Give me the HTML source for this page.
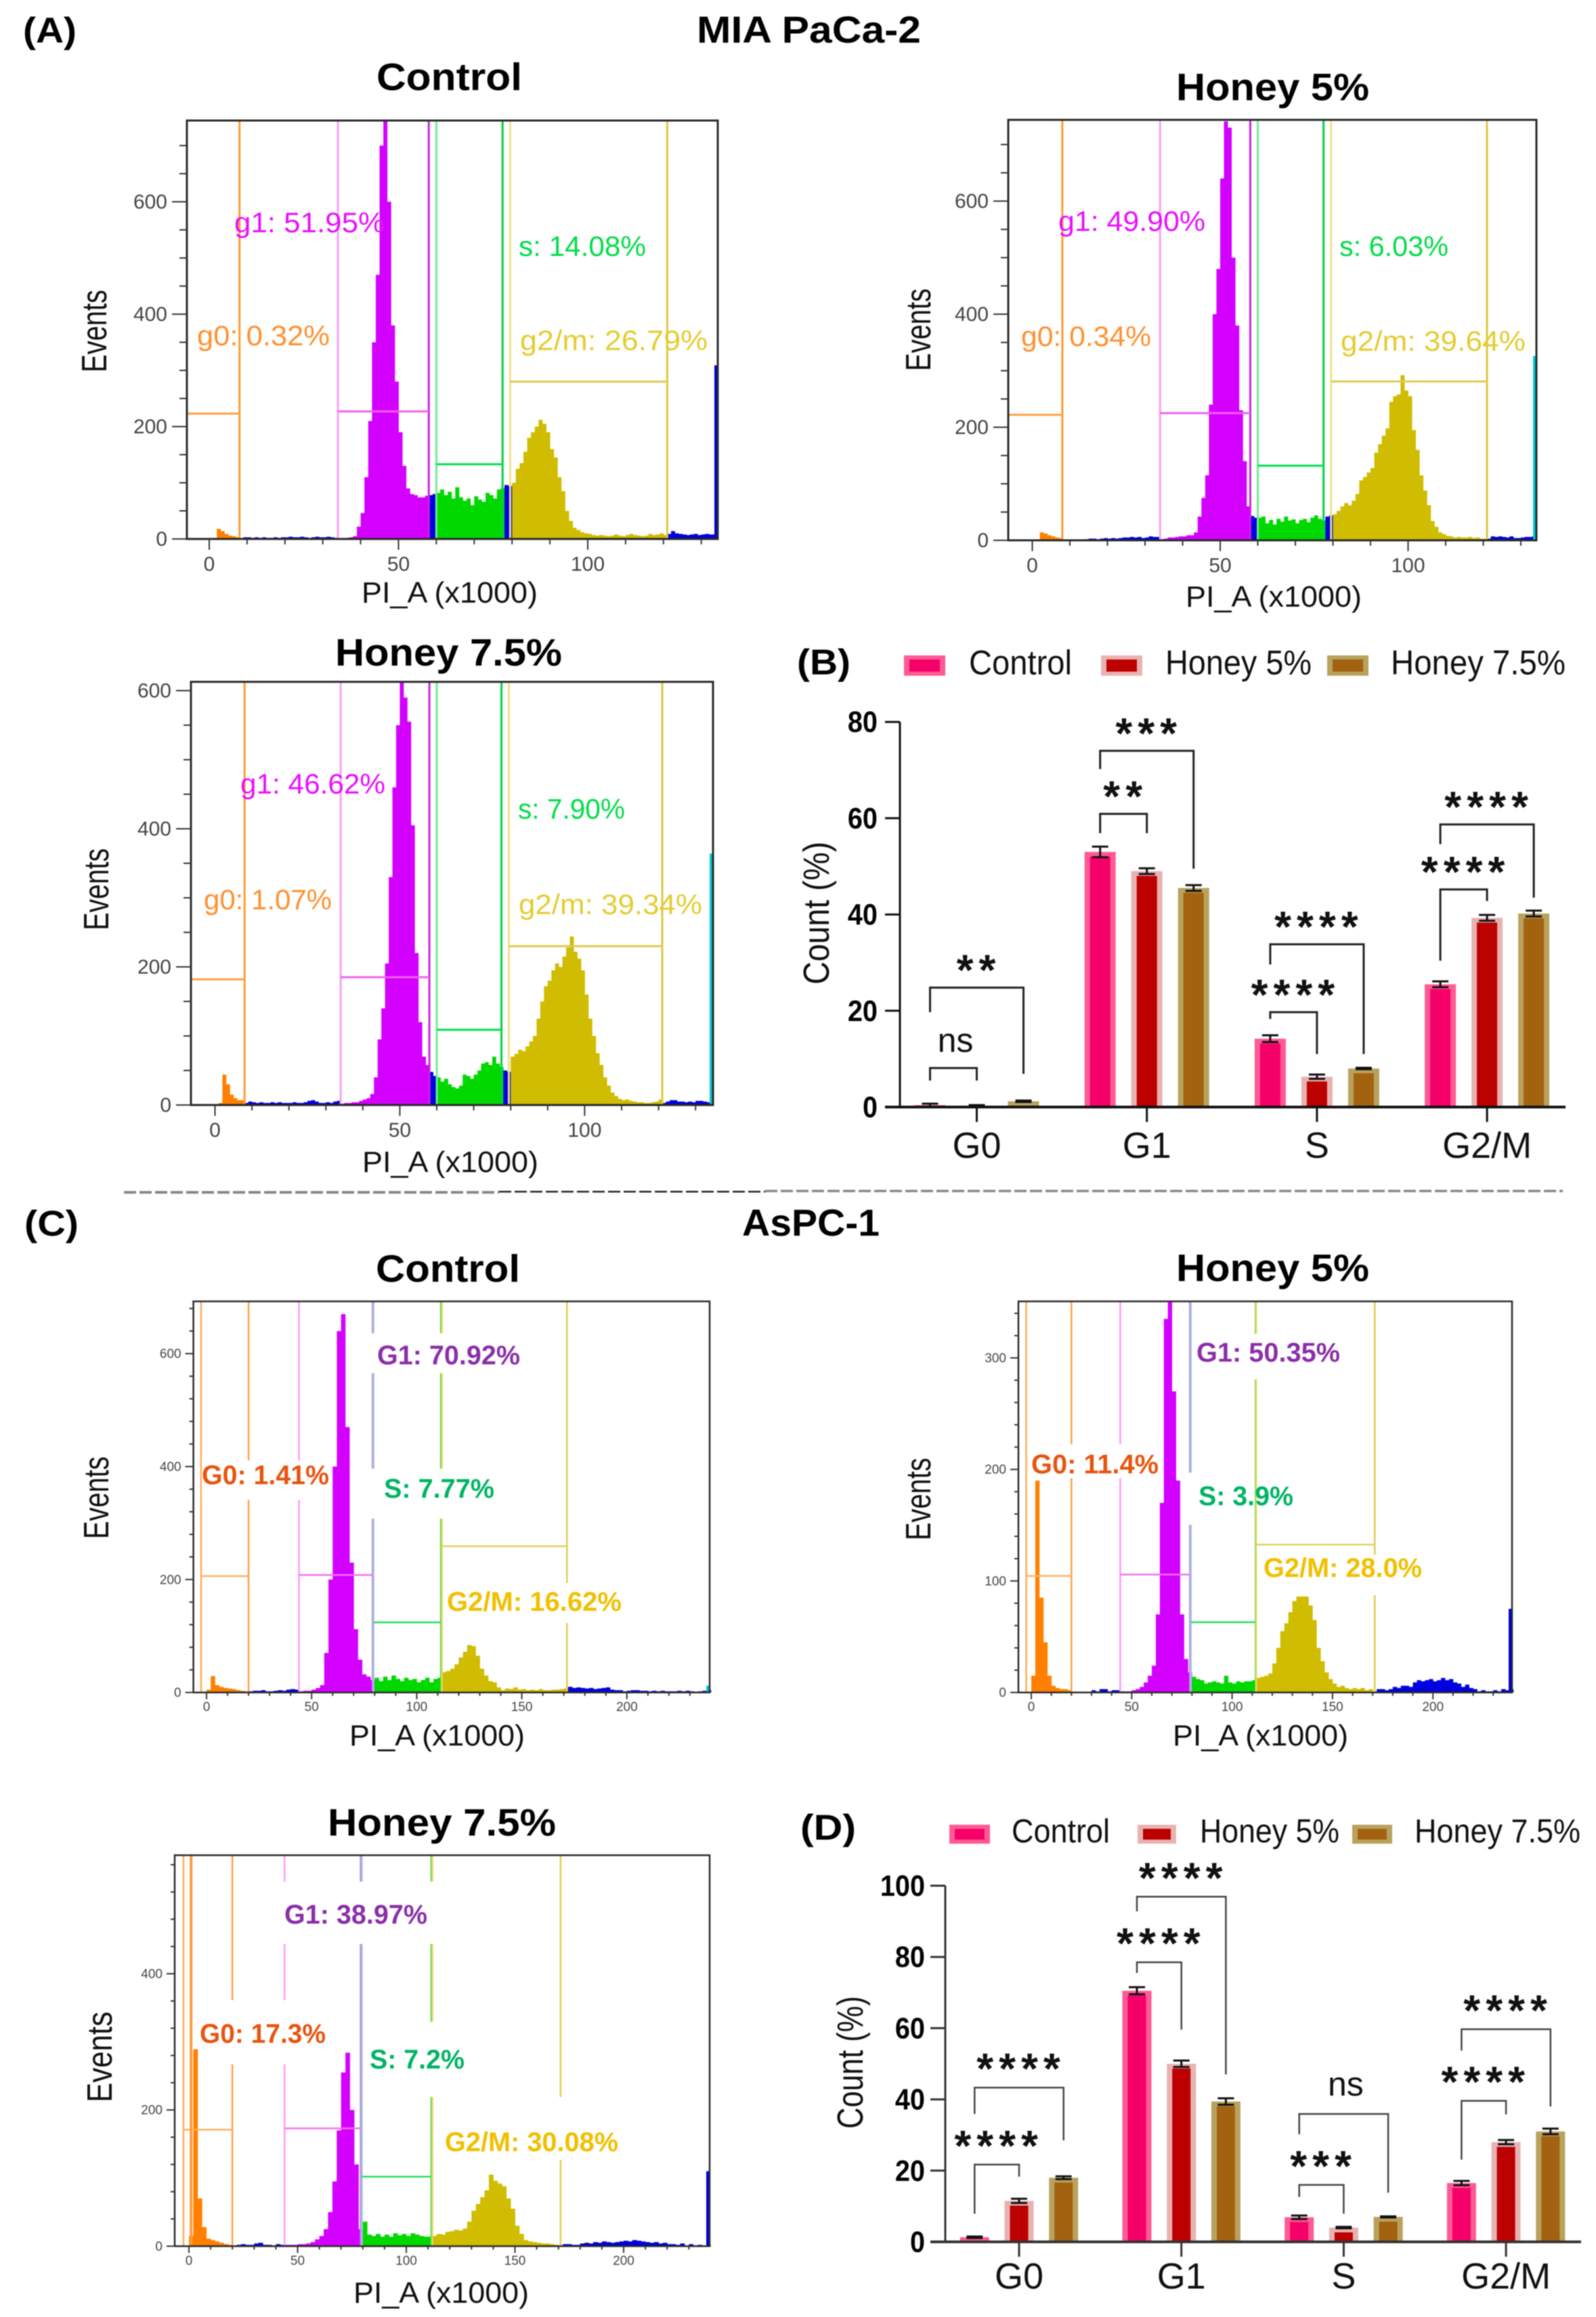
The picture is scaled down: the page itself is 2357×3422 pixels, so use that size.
<!DOCTYPE html>
<html lang="en">
<head>
<meta charset="utf-8">
<title>Honey cell cycle flow cytometry</title>
<style>
html,body{margin:0;padding:0;background:#fff;}
svg{display:block;font-family:"Liberation Sans",sans-serif;filter:blur(0.9px);}
.t{font-weight:bold;fill:#000;}
.ax{fill:#111;}
.a{font-size:42px;}
.c{font-size:40px;font-weight:bold;}
.mg{fill:#e80fff;}.gr{fill:#00dd48;}.og{fill:#ff9030;}.yl{fill:#e4cc30;}
.cg0{fill:#e8540f;}.cg1{fill:#8b2fa8;}.cs{fill:#00b464;}.cg2{fill:#f0c000;}
</style>
</head>
<body>
<svg xmlns="http://www.w3.org/2000/svg" width="2357" height="3422" viewBox="0 0 2357 3422">
<rect width="2357" height="3422" fill="#fff"/>

<text class="t" x="34" y="63" font-size="53" textLength="79" lengthAdjust="spacingAndGlyphs">(A)</text>
<text class="t" x="1029" y="63" font-size="56" textLength="331" lengthAdjust="spacingAndGlyphs">MIA PaCa-2</text>
<text class="t" x="556" y="133" font-size="57" textLength="215" lengthAdjust="spacingAndGlyphs">Control</text>
<text class="t" x="1737" y="148" font-size="57" textLength="285" lengthAdjust="spacingAndGlyphs">Honey 5%</text>
<text class="t" x="495" y="983" font-size="57" textLength="335" lengthAdjust="spacingAndGlyphs">Honey 7.5%</text>

<!-- A control -->
<g id="plot-a-control"></g>
<text class="a mg" x="346" y="343" textLength="222" lengthAdjust="spacingAndGlyphs">g1: 51.95%</text>
<text class="a gr" x="766" y="378" textLength="188" lengthAdjust="spacingAndGlyphs">s: 14.08%</text>
<text class="a og" x="291" y="510" textLength="196" lengthAdjust="spacingAndGlyphs">g0: 0.32%</text>
<text class="a yl" x="768" y="517" textLength="277" lengthAdjust="spacingAndGlyphs">g2/m: 26.79%</text>
<text class="ax" transform="translate(157,550) rotate(-90)" font-size="52" textLength="122" lengthAdjust="spacingAndGlyphs">Events</text>
<text class="ax" x="534" y="890" font-size="44" textLength="260" lengthAdjust="spacingAndGlyphs">PI_A (x1000)</text>

<!-- A honey 5 -->
<g id="plot-a-honey5"></g>
<text class="a mg" x="1563" y="341" textLength="217" lengthAdjust="spacingAndGlyphs">g1: 49.90%</text>
<text class="a gr" x="1978" y="378" textLength="161" lengthAdjust="spacingAndGlyphs">s: 6.03%</text>
<text class="a og" x="1508" y="511" textLength="192" lengthAdjust="spacingAndGlyphs">g0: 0.34%</text>
<text class="a yl" x="1980" y="518" textLength="273" lengthAdjust="spacingAndGlyphs">g2/m: 39.64%</text>
<text class="ax" transform="translate(1374,548) rotate(-90)" font-size="52" textLength="122" lengthAdjust="spacingAndGlyphs">Events</text>
<text class="ax" x="1751" y="896" font-size="44" textLength="260" lengthAdjust="spacingAndGlyphs">PI_A (x1000)</text>

<!-- A honey 7.5 -->
<g id="plot-a-honey75"></g>
<text class="a mg" x="355" y="1172" textLength="214" lengthAdjust="spacingAndGlyphs">g1: 46.62%</text>
<text class="a gr" x="765" y="1209" textLength="158" lengthAdjust="spacingAndGlyphs">s: 7.90%</text>
<text class="a og" x="301" y="1343" textLength="189" lengthAdjust="spacingAndGlyphs">g0: 1.07%</text>
<text class="a yl" x="766" y="1350" textLength="271" lengthAdjust="spacingAndGlyphs">g2/m: 39.34%</text>
<text class="ax" transform="translate(160,1374) rotate(-90)" font-size="52" textLength="121" lengthAdjust="spacingAndGlyphs">Events</text>
<text class="ax" x="535" y="1731" font-size="44" textLength="260" lengthAdjust="spacingAndGlyphs">PI_A (x1000)</text>

<!-- B -->
<text class="t" x="1177" y="996" font-size="53" textLength="79" lengthAdjust="spacingAndGlyphs">(B)</text>
<g>
<rect x="1335" y="968" width="61" height="30" fill="#ff5a94"/><rect x="1343" y="974" width="45" height="18" fill="#f5006a"/>
<text class="ax" x="1431" y="996" font-size="51" textLength="152" lengthAdjust="spacingAndGlyphs">Control</text>
<rect x="1626" y="968" width="61" height="30" fill="#e8b2b2"/><rect x="1634" y="974" width="45" height="18" fill="#bc0000"/>
<text class="ax" x="1721" y="996" font-size="51" textLength="216" lengthAdjust="spacingAndGlyphs">Honey 5%</text>
<rect x="1960" y="968" width="61" height="30" fill="#b8a25e"/><rect x="1968" y="974" width="45" height="18" fill="#a36210"/>
<text class="ax" x="2054" y="996" font-size="51" textLength="258" lengthAdjust="spacingAndGlyphs">Honey 7.5%</text>
</g>
<g id="chart-b"></g>
<text class="ax" transform="translate(1224,1454) rotate(-90)" font-size="54" fill="#222" textLength="211" lengthAdjust="spacingAndGlyphs">Count (%)</text>

<!-- Divider -->
<g fill="none" stroke-dasharray="18 5">
<line x1="183" y1="1761" x2="737" y2="1761" stroke="#888" stroke-width="4"/>
<line x1="737" y1="1760" x2="1130" y2="1760" stroke="#222" stroke-width="2.5"/>
<line x1="1130" y1="1759" x2="2308" y2="1759" stroke="#888" stroke-width="3.5"/>
</g>

<text class="t" x="36" y="1825" font-size="53" textLength="80" lengthAdjust="spacingAndGlyphs">(C)</text>
<text class="t" x="1096" y="1825" font-size="56" textLength="203" lengthAdjust="spacingAndGlyphs">AsPC-1</text>
<text class="t" x="555" y="1893" font-size="57" textLength="213" lengthAdjust="spacingAndGlyphs">Control</text>
<text class="t" x="1737" y="1892" font-size="57" textLength="285" lengthAdjust="spacingAndGlyphs">Honey 5%</text>
<text class="t" x="484" y="2711" font-size="57" textLength="337" lengthAdjust="spacingAndGlyphs">Honey 7.5%</text>

<!-- C control -->
<g id="plot-c-control"></g>
<g fill="#fff">
<rect x="548" y="1969" width="222" height="59"/>
<rect x="298" y="2157" width="192" height="58"/>
<rect x="549" y="2169" width="186" height="74"/>
<rect x="660" y="2338" width="260" height="59"/>
</g>
<text class="c cg1" x="557" y="2015" textLength="211" lengthAdjust="spacingAndGlyphs">G1: 70.92%</text>
<text class="c cg0" x="298" y="2192" textLength="188" lengthAdjust="spacingAndGlyphs">G0: 1.41%</text>
<text class="c cs" x="567" y="2212" textLength="163" lengthAdjust="spacingAndGlyphs">S: 7.77%</text>
<text class="c cg2" x="660" y="2379" textLength="258" lengthAdjust="spacingAndGlyphs">G2/M: 16.62%</text>
<text class="ax" transform="translate(160,2273) rotate(-90)" font-size="52" textLength="122" lengthAdjust="spacingAndGlyphs">Events</text>
<text class="ax" x="516" y="2578" font-size="44" textLength="259" lengthAdjust="spacingAndGlyphs">PI_A (x1000)</text>

<!-- C honey 5 -->
<g id="plot-c-honey5"></g>
<g fill="#fff">
<rect x="1760" y="1970" width="225" height="67"/>
<rect x="1522" y="2133" width="191" height="50"/>
<rect x="1755" y="2175" width="10" height="77"/>
<rect x="1864" y="2296" width="238" height="60"/>
</g>
<text class="c cg1" x="1767" y="2011" textLength="212" lengthAdjust="spacingAndGlyphs">G1: 50.35%</text>
<text class="c cg0" x="1523" y="2176" textLength="188" lengthAdjust="spacingAndGlyphs">G0: 11.4%</text>
<text class="c cs" x="1770" y="2223" textLength="140" lengthAdjust="spacingAndGlyphs">S: 3.9%</text>
<text class="c cg2" x="1866" y="2329" textLength="234" lengthAdjust="spacingAndGlyphs">G2/M: 28.0%</text>
<text class="ax" transform="translate(1374,2275) rotate(-90)" font-size="52" textLength="122" lengthAdjust="spacingAndGlyphs">Events</text>
<text class="ax" x="1732" y="2578" font-size="44" textLength="259" lengthAdjust="spacingAndGlyphs">PI_A (x1000)</text>

<!-- C honey 7.5 -->
<g id="plot-c-honey75"></g>
<g fill="#fff">
<rect x="412" y="2779" width="230" height="92"/>
<rect x="293" y="2954" width="190" height="95"/>
<rect x="540" y="2986" width="150" height="111"/>
<rect x="648" y="3097" width="275" height="93"/>
</g>
<text class="c cg1" x="420" y="2841" textLength="211" lengthAdjust="spacingAndGlyphs">G1: 38.97%</text>
<text class="c cg0" x="295" y="3017" textLength="186" lengthAdjust="spacingAndGlyphs">G0: 17.3%</text>
<text class="c cs" x="546" y="3055" textLength="140" lengthAdjust="spacingAndGlyphs">S: 7.2%</text>
<text class="c cg2" x="657" y="3177" textLength="256" lengthAdjust="spacingAndGlyphs">G2/M: 30.08%</text>
<text class="ax" transform="translate(165,3105) rotate(-90)" font-size="52" textLength="134" lengthAdjust="spacingAndGlyphs">Events</text>
<text class="ax" x="522" y="3401" font-size="44" textLength="259" lengthAdjust="spacingAndGlyphs">PI_A (x1000)</text>

<!-- D -->
<text class="t" x="1182" y="2717" font-size="53" textLength="82" lengthAdjust="spacingAndGlyphs">(D)</text>
<g>
<rect x="1402" y="2695" width="60" height="28" fill="#ff5a94"/><rect x="1410" y="2701" width="44" height="16" fill="#f5006a"/>
<text class="ax" x="1494" y="2721" font-size="49" textLength="145" lengthAdjust="spacingAndGlyphs">Control</text>
<rect x="1680" y="2695" width="57" height="28" fill="#e8b2b2"/><rect x="1688" y="2701" width="41" height="16" fill="#bc0000"/>
<text class="ax" x="1772" y="2721" font-size="49" textLength="206" lengthAdjust="spacingAndGlyphs">Honey 5%</text>
<rect x="1997" y="2695" width="59" height="28" fill="#b8a25e"/><rect x="2005" y="2701" width="43" height="16" fill="#a36210"/>
<text class="ax" x="2089" y="2721" font-size="49" textLength="245" lengthAdjust="spacingAndGlyphs">Honey 7.5%</text>
</g>
<g id="chart-d"></g>
<text class="ax" transform="translate(1274,3144) rotate(-90)" font-size="54" fill="#222" textLength="196" lengthAdjust="spacingAndGlyphs">Count (%)</text>
</svg>

<script>
// ---------- Histogram data (events per PI_A bin; panel A bins start at 0 with width 1, panel C bins start at 0 with width 2) ----------
const aControlCounts=[0,2,18,14,9,6,5,3,
1,3,3,2,3,2,3,2,2,3,2,3,3,4,3,3,4,3,2,3,4,3,3,4,3,2,
1,1,2,3,5,22,46,110,210,350,470,700,744,600,380,280,190,130,90,80,78,74,74,77,
78,80,
82,88,78,84,72,92,74,68,72,60,76,70,66,82,78,72,88,90,
96,94,
100,125,135,155,180,190,200,212,205,190,160,145,110,85,50,32,20,16,12,10,9,7,6,7,6,5,6,8,6,5,7,9,7,6,5,6,9,7,8,10,7,
9,14,10,9,8,7,8,9,7,8,9,8,8];
const aControlEdge=[309];
const aControlGates=[null,8,34,58,60,77.5,79.5,121];
const aControlLevels=[223,227,133,280];

const aHoney5Counts=[0,1,14,12,9,7,5,4,
1,1,1,1,1,1,2,3,3,2,3,4,3,4,3,4,5,5,6,5,6,4,5,7,6,6,
2,3,5,5,6,7,7,9,9,14,42,75,115,240,400,480,640,741,730,500,380,230,140,60,
43,40,
40,42,30,36,28,38,33,42,35,37,30,36,38,32,40,44,38,35,
42,44,
46,52,60,66,62,70,82,106,112,120,128,155,170,185,198,245,255,258,292,265,255,195,160,115,88,62,34,24,14,11,8,7,5,6,5,5,6,4,5,3,3,
3,7,6,7,6,5,7,4,4,5,6,6,7];
const aHoney5Edge=[326];
const aHoney5Gates=[null,8,34,58,60,77.5,79.5,121];
const aHoney5Levels=[222,225,132,281];

const aHoney75Counts=[0,3,44,30,15,10,7,7,
3,5,4,3,4,3,3,4,3,4,3,3,3,4,3,3,4,6,7,5,3,3,4,3,5,6,
2,3,3,4,4,6,8,10,16,40,95,140,205,330,460,550,612,590,555,405,220,120,70,58,
48,42,
40,34,38,30,26,24,28,44,42,38,44,50,60,62,58,70,60,55,
50,48,
70,74,80,78,85,92,100,125,150,172,180,195,205,200,215,228,244,222,212,195,160,125,100,75,58,40,28,18,13,9,7,8,6,5,4,4,3,3,4,5,8,
3,5,7,7,5,5,4,5,4,6,6,5,4];
const aHoney75Edge=[364];
const aHoney75Gates=[null,8,34,58,60,77.5,79.5,121];
const aHoney75Levels=[182,185,109,230];

const cControlCounts=[5,29,13,10,8,7,6,4,3,2,
2,3,3,4,2,2,3,4,3,5,6,5,
2,3,3,5,8,13,70,200,400,640,670,470,230,112,58,32,28,22,
26,20,28,22,30,24,20,26,22,24,18,22,26,18,24,26,
36,38,42,50,62,72,84,82,65,42,30,20,18,9,4,7,6,9,5,6,4,5,4,6,4,4,5,5,6,7,
10,8,9,8,7,8,6,7,8,9,5,4,4,2,3,4,4,3,3,2,3,2,3,2,2,2,3,2,3,2,1,2,3,4];
const cControlEdge=[12];
const cControlGates=[-2.6,20,44,79,79.5,111.5,112,171.5];
const cControlLevels=[206,208,124,259];

const cHoney5Counts=[15,190,85,45,15,6,4,3,3,2,
0,0,0,0,0,2,1,3,3,1,2,2,
1,1,1,2,3,5,9,15,24,70,170,335,351,270,190,70,30,18,
14,12,11,8,9,10,9,8,15,9,8,10,9,10,10,11,
13,14,15,17,26,40,55,62,72,82,86,86,86,78,65,40,28,18,12,8,5,6,4,3,4,3,4,2,3,1,
3,3,2,3,5,4,6,6,5,9,11,10,11,12,10,11,13,11,12,9,8,5,7,4,3,1,2,1,1,2,1,3,2,3];
const cHoney5Edge=[75];
const cHoney5Gates=[-2.5,20,44.3,79,79.5,111.7,112,171];
const cHoney5Levels=[104.5,105.7,63,132.6];

const cHoney75Counts=[15,289,70,28,11,9,7,5,3,2,
1,2,3,2,2,4,5,2,2,1,3,2,
2,2,2,3,3,4,6,10,15,25,50,95,170,255,284,200,120,25,
36,17,15,18,14,17,14,19,16,18,15,19,17,15,14,14,
15,18,17,21,22,24,23,26,36,52,62,72,82,105,96,92,88,70,55,30,18,9,7,6,5,4,4,3,2,1,
3,3,2,2,4,5,4,6,5,7,6,5,6,7,8,7,9,8,7,6,5,6,4,5,3,3,2,4,1,3,1,2,1,2];
const cHoney75Edge=[110];
const cHoney75Gates=[-2.5,20,44,79,79.6,111.5,112,171];
const cHoney75Levels=[171,173,102,null];

const aXTickLabels=[0,50,100];
const aYTickLabels=[0,200,400,600];
const cXTickLabels=[0,50,100,150,200];
const cControlYTickLabels=[0,200,400,600];
const cHoney5YTickLabels=[0,100,200,300];
const cHoney75YTickLabels=[0,200,400];

// ---------- Bar chart data ----------
const phaseCategories=['G0','G1','S','G2/M'];
const bControl=[0.4,53,14.2,25.5];
const bHoney5=[0.3,49,6.3,39.3];
const bHoney75=[1.2,45.5,8,40.2];
const bControlErr=[0.3,1.1,0.7,0.6];
const bHoney5Err=[0.1,0.6,0.45,0.6];
const bHoney75Err=[0.15,0.6,0.15,0.6];
const bYTicks=[0,20,40,60,80];
// category, first bar, last bar, bracket top, left leg end, right leg end, label
const bBrackets=[
[0,0,1,8.1,5.5,5.5,'ns'],
[0,0,2,24.8,19.7,6.9,'**'],
[1,0,1,60.9,56.9,56.9,'**'],
[1,0,2,74,70.2,49.5,'***'],
[2,0,1,19.7,18.3,11,'****'],
[2,0,2,33.8,29.6,11,'****'],
[3,0,1,45.2,30.4,42.8,'****'],
[3,0,2,58.7,54.6,43.5,'****']];

const dControl=[1.3,70.5,6.9,16.5];
const dHoney5=[11.5,50,4,28];
const dHoney75=[18,39.4,7,31];
const dControlErr=[0.2,1,0.5,0.6];
const dHoney5Err=[0.6,0.9,0.2,0.6];
const dHoney75Err=[0.4,0.9,0.15,0.8];
const dYTicks=[0,20,40,60,80,100];
const dBrackets=[
[0,0,1,21.7,7.9,18.3,'****'],
[0,0,2,43.3,35.9,28.5,'****'],
[1,0,1,78.5,75.5,59.6,'****'],
[1,0,2,96.9,92.8,47,'****'],
[2,0,1,16,12.6,7.9,'***'],
[2,0,2,35.9,30.2,13.8,'ns'],
[3,0,1,39.6,23.1,35.8,'****'],
[3,0,2,59.7,53.7,38,'****']];

// ---------- Drawing helpers ----------
const NS='http://www.w3.org/2000/svg';
function mk(tag,parent,attrs){
  const e=document.createElementNS(NS,tag);
  for(const k in attrs)e.setAttribute(k,attrs[k]);
  parent.appendChild(e);
  return e;
}
function xScale(p,v){return p.zeroX+v*p.kx;}
function yScale(p,v){return p.bottom-v*p.ky;}

const HIST={orange:'#ff8000',blue:'#0000e0',magenta:'#d400ff',green:'#00d800',yellow:'#d0bc00'};
function binColor(x,g){
  if(x<g[1])return HIST.orange;
  if(x>=g[2]&&x<g[3])return HIST.magenta;
  if(x>=g[4]&&x<g[5])return HIST.green;
  if(x>=g[6]&&x<g[7])return HIST.yellow;
  return HIST.blue;
}

function drawHistogram(p){
  const root=document.getElementById(p.id);
  // bins
  p.counts.forEach(function(c,i){
    const x0=p.step*i;
    const px=xScale(p,x0);
    const top=Math.max(yScale(p,c),p.top);
    const r=mk('rect',root,{x:px,y:top,width:p.step*p.kx+0.4,height:p.bottom-top,fill:binColor(x0,p.gates)});
    
    
  });
  // right edge overflow bin
  const edgeTop=Math.max(yScale(p,p.edge[0]),p.top);
  const edge=mk('rect',root,{x:p.right-5,y:edgeTop,width:4,height:p.bottom-edgeTop,fill:p.edgeColor});
  
  
  // gates
  const cols=p.lineColors;
  const g=p.gates,l=p.levels;
  for(let k=0;k<4;k++){
    const lo=g[k*2],hi=g[k*2+1];
    const xl=lo===null?p.left:xScale(p,lo),xh=xScale(p,hi);
    if(lo!==null){
      const v1=mk('line',root,{x1:xl,y1:p.top,x2:xl,y2:p.bottom,stroke:cols[k][0],'stroke-width':p.gateW});
      
      
    }
    const v2=mk('line',root,{x1:xh,y1:p.top,x2:xh,y2:p.bottom,stroke:cols[k][1],'stroke-width':p.gateW});
    
    
    if(l[k]!==null){
      const h=mk('line',root,{x1:xl,y1:yScale(p,l[k]),x2:xh,y2:yScale(p,l[k]),stroke:cols[k][2],'stroke-width':p.gateW});
      
      
    }
  }
  if(p.extraLine!==undefined){
    const ex=mk('line',root,{x1:xScale(p,p.extraLine),y1:p.top,x2:xScale(p,p.extraLine),y2:p.bottom,stroke:'#ff9a3a','stroke-width':4});
    
    
  }
  // frame
  const frame=mk('rect',root,{x:p.left,y:p.top,width:p.right-p.left,height:p.bottom-p.top,fill:'none',stroke:'#2a2a2a','stroke-width':p.frameW});
  
  
  // x ticks
  for(let v=-0;xScale(p,v)<p.right-1;v+=p.xMinor){
    const px=xScale(p,v);
    const major=v%50===0;
    const t=mk('line',root,{x1:px,y1:p.bottom,x2:px,y2:p.bottom+(major?p.xMajorLen:p.xMajorLen/2),stroke:'#333','stroke-width':2});
    
    
  }
  p.xLabels.forEach(function(v){
    const t=mk('text',root,{x:xScale(p,v),y:p.bottom+p.xLabelDy,'text-anchor':'middle','font-size':p.tickFont,fill:'#444'});
    t.textContent=v;
    
    
  });
  // y ticks
  for(let v=0;yScale(p,v)>p.top+1;v+=p.yMinor){
    const py=yScale(p,v);
    const major=v%p.yMajor===0;
    const t=mk('line',root,{x1:p.left-(major?p.yMajorLen:p.yMajorLen/2),y1:py,x2:p.left,y2:py,stroke:'#333','stroke-width':2});
    
    
  }
  p.yLabels.forEach(function(v){
    const t=mk('text',root,{x:p.left-p.yLabelDx,y:yScale(p,v)+p.tickFont*0.34,'text-anchor':'end','font-size':p.tickFont,fill:'#444'});
    t.textContent=v;
    
    
  });
}

const aLines=[['#ffa040','#ff9a30','#ffa040'],['#f8a0f8','#d020e0','#f060f0'],['#70ee90','#00d040','#00e050'],['#eee090','#dcc840','#dccc50']];
const cLines=[['#ffaa55','#ffa040','#ffb060'],['#ff99ff','#b48cdc','#f070f0'],['#a8c4e0','#50d850','#20e060'],['#e8d860','#e0cc50','#e0d060']];
const aStyle={step:1,xMinor:10,yMinor:50,yMajor:200,xMajorLen:16,yMajorLen:22,tickFont:30,xLabelDy:47,yLabelDx:29,frameW:3,gateW:3,lineColors:aLines,xLabels:aXTickLabels};
const cStyle={step:2,xMinor:10,xMajorLen:10,yMajorLen:12,tickFont:19,xLabelDy:27.5,yLabelDx:18,frameW:2.5,gateW:2.5,lineColors:cLines,xLabels:cXTickLabels};

const plots=[
Object.assign({},aStyle,{id:'plot-a-control',left:276,right:1060,top:178,bottom:796,zeroX:309,kx:5.59,ky:0.83,counts:aControlCounts,edge:aControlEdge,edgeColor:'#0000e0',gates:aControlGates,levels:aControlLevels,yLabels:aYTickLabels}),
Object.assign({},aStyle,{id:'plot-a-honey5',left:1489,right:2269,top:177,bottom:798,zeroX:1524.5,kx:5.55,ky:0.835,counts:aHoney5Counts,edge:aHoney5Edge,edgeColor:'#00c8d8',gates:aHoney5Gates,levels:aHoney5Levels,yLabels:aYTickLabels}),
Object.assign({},aStyle,{id:'plot-a-honey75',left:282,right:1053,top:1007,bottom:1632,zeroX:317.5,kx:5.459,ky:1.02,counts:aHoney75Counts,edge:aHoney75Edge,edgeColor:'#00c8d8',gates:aHoney75Gates,levels:aHoney75Levels,yLabels:aYTickLabels}),
Object.assign({},cStyle,{id:'plot-c-control',left:285.6,right:1048,top:1922,bottom:2499.6,zeroX:305,kx:3.104,ky:0.834,yMinor:40,yMajor:200,counts:cControlCounts,edge:cControlEdge,edgeColor:'#00c8d8',gates:cControlGates,levels:cControlLevels,yLabels:cControlYTickLabels}),
Object.assign({},cStyle,{id:'plot-c-honey5',left:1504,right:2233,top:1922,bottom:2499.6,zeroX:1523,kx:2.966,ky:1.647,yMinor:20,yMajor:100,counts:cHoney5Counts,edge:cHoney5Edge,edgeColor:'#0000e0',gates:cHoney5Gates,levels:cHoney5Levels,yLabels:cHoney5YTickLabels}),
Object.assign({},cStyle,{id:'plot-c-honey75',left:258,right:1048,top:2740,bottom:3317.4,zeroX:279,kx:3.21,ky:1.006,yMinor:40,yMajor:200,counts:cHoney75Counts,edge:cHoney75Edge,edgeColor:'#0000e0',gates:cHoney75Gates,levels:cHoney75Levels,yLabels:cHoney75YTickLabels,extraLine:1})
];
plots.forEach(drawHistogram);

// ---------- Bar charts ----------
const SERIES_STYLE=[{b:'#ff5a94',f:'#f5006a'},{b:'#e8b2b2',f:'#bc0000'},{b:'#b8a25e',f:'#a36210'}];

function barY(c,v){return c.zeroY-v*c.ky;}
function catX(c,i){return c.firstCat+i*c.catStep;}
function barX(c,i,s){return catX(c,i)+(s-1)*c.barStep;}

function drawBars(c){
  const root=document.getElementById(c.id);
  // y axis
  const ya=mk('line',root,{x1:c.axisX,y1:barY(c,c.yTicks[c.yTicks.length-1]),x2:c.axisX,y2:c.zeroY,stroke:c.axisColor,'stroke-width':3});
  
  
  c.yTicks.forEach(function(v){
    const t=mk('line',root,{x1:c.axisX-22,y1:barY(c,v),x2:c.axisX,y2:barY(c,v),stroke:c.axisColor,'stroke-width':3});
    
    
    const l=mk('text',root,{x:c.axisX-c.yLabelDx,y:barY(c,v)+15,'text-anchor':'end','font-size':44,'font-weight':'bold',fill:'#000',lengthAdjust:'spacingAndGlyphs'});
    l.textContent=v;
    
    
    l.setAttribute('textLength',(l.getComputedTextLength()*0.9).toFixed(1));
  });
  // bars
  c.series.forEach(function(vals,s){
    vals.forEach(function(v,i){
      const cx=barX(c,i,s),y=barY(c,v),h=c.zeroY-y,st=SERIES_STYLE[s];
      const outer=mk('rect',root,{x:cx-c.barW/2,y:y,width:c.barW,height:h,fill:st.b});
      
      
      if(h>7){
        const inner=mk('rect',root,{x:cx-c.barW/2+8,y:y+7,width:c.barW-16,height:h-7,fill:st.f});
        
        
      }
      const e=c.errors[s][i];
      const v1=mk('line',root,{x1:cx,y1:barY(c,v+e),x2:cx,y2:barY(c,v-e),stroke:'#111','stroke-width':3});
      
      
      [v+e,v-e].forEach(function(ev){
        const cap=mk('line',root,{x1:cx-12,y1:barY(c,ev),x2:cx+12,y2:barY(c,ev),stroke:'#111','stroke-width':3});
        
        
      });
    });
  });
  // x axis
  const xa=mk('line',root,{x1:c.axisX-22,y1:c.zeroY,x2:c.axisEnd,y2:c.zeroY,stroke:c.axisColor,'stroke-width':4});
  
  
  c.categories.forEach(function(cat,i){
    const t=mk('line',root,{x1:catX(c,i),y1:c.zeroY,x2:catX(c,i),y2:c.zeroY+22,stroke:c.axisColor,'stroke-width':3});
    
    
    const l=mk('text',root,{x:catX(c,i),y:c.zeroY+c.catLabelDy,'text-anchor':'middle','font-size':54,fill:'#111',lengthAdjust:'spacingAndGlyphs'});
    l.textContent=cat;
    
    
    l.setAttribute('textLength',(l.getComputedTextLength()*1.0).toFixed(1));
  });
  // significance brackets
  c.brackets.forEach(function(b){
    const xa1=barX(c,b[0],b[1]),xa2=barX(c,b[0],b[2]);
    const pts=[[xa1,barY(c,b[4])],[xa1,barY(c,b[3])],[xa2,barY(c,b[3])],[xa2,barY(c,b[5])]].map(function(q){return q[0]+','+q[1];}).join(' ');
    const pl=mk('polyline',root,{points:pts,fill:'none',stroke:c.bracketColor,'stroke-width':c.bracketW});
    
    
    const isNs=b[6]==='ns';
    const mx=(xa1+xa2)/2+3,ty=barY(c,b[3]);
    const lab=mk('text',root,isNs
      ?{x:mx,y:ty-c.nsDy,'text-anchor':'middle','font-size':50,fill:'#111'}
      :{x:mx,y:ty-c.starDy+27,'text-anchor':'middle','font-size':64,'font-weight':'bold',fill:'#111','letter-spacing':8});
    lab.textContent=b[6];
    
    
  });
}

drawBars({id:'chart-b',axisX:1329,axisEnd:2312,zeroY:1635,ky:7.11,firstCat:1442.5,catStep:251.2,barStep:69,barW:46,axisColor:'#111',bracketColor:'#222',bracketW:3,yLabelDx:33,catLabelDy:75,nsDy:24,starDy:31,categories:phaseCategories,series:[bControl,bHoney5,bHoney75],errors:[bControlErr,bHoney5Err,bHoney75Err],yTicks:bYTicks,brackets:bBrackets});
drawBars({id:'chart-d',axisX:1396,axisEnd:2335,zeroY:3311,ky:5.26,firstCat:1505,catStep:239.7,barStep:65.7,barW:43,axisColor:'#333',bracketColor:'#444',bracketW:2.5,yLabelDx:30,catLabelDy:69,nsDy:27,starDy:33,categories:phaseCategories,series:[dControl,dHoney5,dHoney75],errors:[dControlErr,dHoney5Err,dHoney75Err],yTicks:dYTicks,brackets:dBrackets});
</script>
</body>
</html>
